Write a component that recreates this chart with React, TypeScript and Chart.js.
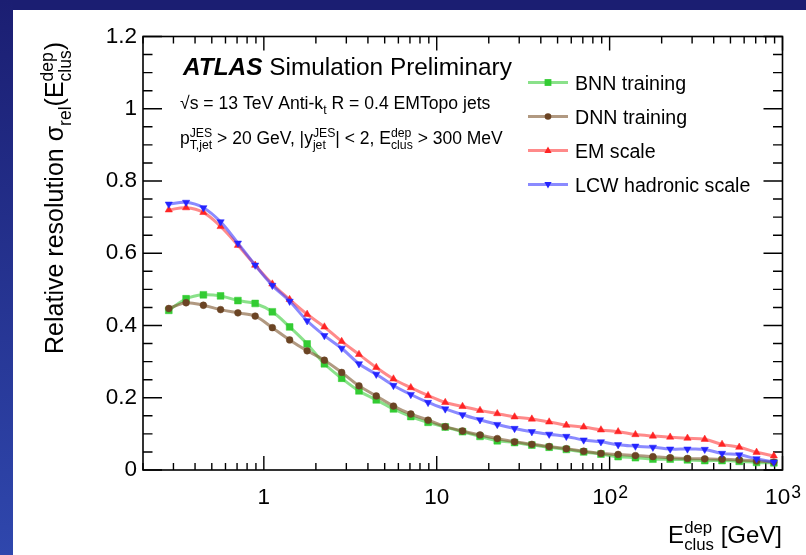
import React, { useEffect, useRef } from "react";
import { Chart, registerables } from "chart.js";

Chart.register(...registerables);

// ---- data ----
const energyGeV = [
  0.282, 0.355, 0.447, 0.562, 0.708, 0.891, 1.12, 1.41, 1.78, 2.24, 2.82, 3.55,
  4.47, 5.62, 7.08, 8.91, 11.2, 14.1, 17.8, 22.4, 28.2, 35.5, 44.7, 56.2, 70.8,
  89.1, 112, 141, 178, 224, 282, 355, 447, 562, 708, 891,
];

const bnnTraining = [
  0.442, 0.474, 0.485, 0.482, 0.469, 0.461, 0.438, 0.396, 0.349, 0.294, 0.254,
  0.219, 0.194, 0.169, 0.148, 0.132, 0.119, 0.106, 0.093, 0.081, 0.076, 0.069,
  0.063, 0.057, 0.05, 0.044, 0.037, 0.034, 0.03, 0.03, 0.028, 0.026, 0.026,
  0.024, 0.021, 0.02,
];

const dnnTraining = [
  0.447, 0.463, 0.456, 0.444, 0.435, 0.426, 0.394, 0.36, 0.33, 0.304, 0.27,
  0.233, 0.205, 0.177, 0.155, 0.138, 0.12, 0.108, 0.097, 0.087, 0.078, 0.071,
  0.065, 0.059, 0.052, 0.046, 0.043, 0.04, 0.037, 0.034, 0.032, 0.031, 0.03,
  0.028, 0.025, 0.022,
];

const emScale = [
  0.72, 0.726, 0.713, 0.674, 0.622, 0.567, 0.515, 0.472, 0.431, 0.396, 0.356,
  0.32, 0.284, 0.252, 0.228, 0.206, 0.187, 0.176, 0.165, 0.156, 0.147, 0.141,
  0.133, 0.124, 0.119, 0.111, 0.106, 0.098, 0.094, 0.091, 0.088, 0.085, 0.071,
  0.063, 0.049, 0.039,
];

const lcwScale = [
  0.736, 0.741, 0.726, 0.687, 0.628, 0.567, 0.511, 0.467, 0.413, 0.372, 0.337,
  0.294, 0.265, 0.234, 0.209, 0.187, 0.169, 0.153, 0.139, 0.126, 0.115, 0.106,
  0.099, 0.093, 0.083, 0.078, 0.07, 0.066, 0.063, 0.058, 0.058, 0.057, 0.046,
  0.042, 0.031, 0.022,
];

const seriesNames = ["BNN training", "DNN training", "EM scale", "LCW hadronic scale"];

const yTicks = [0, 0.2, 0.4, 0.6, 0.8, 1, 1.2];
const yTickLabels = ["0", "0.2", "0.4", "0.6", "0.8", "1", "1.2"];
const xTickValues = [1, 10, 100, 1000];
const xTickBases = ["1", "10", "10", "10"];
const xTickExps = ["", "", "2", "3"];

// ---- styling ----
const FAM = "'Liberation Sans', Arial, Helvetica, sans-serif";

type Piece = { t: string; sup?: string; sub?: string; bold?: boolean; italic?: boolean };

function fontStr(size: number, p?: Piece) {
  return `${p && p.italic ? "italic " : ""}${p && p.bold ? "bold " : ""}${size}px ${FAM}`;
}

function measureRich(ctx: CanvasRenderingContext2D, pieces: Piece[], size: number) {
  let w = 0;
  for (const p of pieces) {
    ctx.font = fontStr(size, p);
    w += ctx.measureText(p.t).width;
    if (p.sup || p.sub) {
      ctx.font = fontStr(size * 0.7);
      w += Math.max(
        p.sup ? ctx.measureText(p.sup).width : 0,
        p.sub ? ctx.measureText(p.sub).width : 0
      );
    }
  }
  return w;
}

function drawRich(
  ctx: CanvasRenderingContext2D,
  pieces: Piece[],
  x: number,
  y: number,
  size: number,
  align: "left" | "right" | "center"
) {
  const w = measureRich(ctx, pieces, size);
  let cx = align === "right" ? x - w : align === "center" ? x - w / 2 : x;
  ctx.textAlign = "left";
  ctx.textBaseline = "alphabetic";
  for (const p of pieces) {
    ctx.font = fontStr(size, p);
    ctx.fillText(p.t, cx, y);
    cx += ctx.measureText(p.t).width;
    if (p.sup || p.sub) {
      ctx.font = fontStr(size * 0.7);
      let adv = 0;
      if (p.sup) {
        ctx.fillText(p.sup, cx, y - size * 0.42);
        adv = Math.max(adv, ctx.measureText(p.sup).width);
      }
      if (p.sub) {
        ctx.fillText(p.sub, cx, y + size * 0.3);
        adv = Math.max(adv, ctx.measureText(p.sub).width);
      }
      cx += adv;
    }
  }
}

type MarkerKind = "rect" | "circle" | "triUp" | "triDown";

function drawMarker(ctx: CanvasRenderingContext2D, kind: MarkerKind, x: number, y: number, color: string) {
  ctx.fillStyle = color;
  ctx.beginPath();
  if (kind === "rect") {
    ctx.rect(x - 3.4, y - 3.4, 6.8, 6.8);
  } else if (kind === "circle") {
    ctx.arc(x, y, 3.3, 0, Math.PI * 2);
  } else if (kind === "triUp") {
    ctx.moveTo(x, y - 4);
    ctx.lineTo(x + 3.6, y + 2.4);
    ctx.lineTo(x - 3.6, y + 2.4);
    ctx.closePath();
  } else {
    ctx.moveTo(x, y + 4);
    ctx.lineTo(x + 3.6, y - 2.4);
    ctx.lineTo(x - 3.6, y - 2.4);
    ctx.closePath();
  }
  ctx.fill();
}

const lineColors = [
  "rgba(60,205,60,0.6)",
  "rgba(125,85,45,0.6)",
  "rgba(255,60,60,0.6)",
  "rgba(60,60,255,0.6)",
];
const markerColors = ["#33cc33", "#6b4424", "#ff2424", "#2424ff"];
const markerKinds: MarkerKind[] = ["rect", "circle", "triUp", "triDown"];

const framePlugin = {
  id: "rootFrame",
  beforeDatasetsDraw(chart: any) {
    const ctx: CanvasRenderingContext2D = chart.ctx;
    const xs = chart.scales.x;
    const ys = chart.scales.y;
    const { left: L, right: R, top: T, bottom: B } = chart.chartArea;
    ctx.save();
    ctx.strokeStyle = "#000";
    ctx.lineWidth = 1.6;
    ctx.strokeRect(L, T, R - L, B - T);
    ctx.lineWidth = 1.4;
    ctx.beginPath();
    // y ticks (every 0.05, major each 0.2)
    for (let i = 0; i <= 24; i++) {
      const v = i * 0.05;
      const py = ys.getPixelForValue(v);
      const len = i % 4 === 0 ? 19 : 9.5;
      ctx.moveTo(L, py);
      ctx.lineTo(L + len, py);
      ctx.moveTo(R, py);
      ctx.lineTo(R - len, py);
    }
    // x ticks (log decades)
    for (let e = -1; e <= 3; e++) {
      for (let k = 1; k <= 9; k++) {
        const v = k * Math.pow(10, e);
        if (v < 0.2 - 1e-9 || v > 1000 + 1e-9) continue;
        const px = xs.getPixelForValue(v);
        const len = k === 1 ? 14 : 7;
        ctx.moveTo(px, B);
        ctx.lineTo(px, B - len);
        ctx.moveTo(px, T);
        ctx.lineTo(px, T + len);
      }
    }
    ctx.stroke();
    ctx.restore();
  },
  afterDraw(chart: any) {
    const ctx: CanvasRenderingContext2D = chart.ctx;
    const xs = chart.scales.x;
    const { bottom: B } = chart.chartArea;
    ctx.save();
    ctx.fillStyle = "#000";

    // x tick labels
    xTickValues.forEach((v, i) => {
      const px = xs.getPixelForValue(v);
      const size = 22.5;
      ctx.font = fontStr(size);
      const wb = ctx.measureText(xTickBases[i]).width;
      ctx.font = fontStr(size * 0.78);
      const we = xTickExps[i] ? ctx.measureText(xTickExps[i]).width : 0;
      const x0 = px - (wb + we) / 2;
      const by = B + 34;
      ctx.textAlign = "left";
      ctx.textBaseline = "alphabetic";
      ctx.font = fontStr(size);
      ctx.fillText(xTickBases[i], x0, by);
      if (xTickExps[i]) {
        ctx.font = fontStr(size * 0.78);
        ctx.fillText(xTickExps[i], x0 + wb + 1, by - 6.5);
      }
    });

    // x title
    drawRich(ctx, [{ t: "E", sup: "dep", sub: "clus" }, { t: " [GeV]" }], 782, 543, 24, "right");

    // y title
    ctx.save();
    ctx.translate(63, 42);
    ctx.rotate(-Math.PI / 2);
    drawRich(
      ctx,
      [{ t: "Relative resolution σ", sub: "rel" }, { t: "(E", sup: "dep", sub: "clus" }, { t: ")" }],
      0,
      0,
      25,
      "right"
    );
    ctx.restore();

    // ATLAS label
    drawRich(ctx, [{ t: "ATLAS", bold: true, italic: true }, { t: " Simulation Preliminary" }], 183, 75, 24.4, "left");
    drawRich(ctx, [{ t: "√s = 13 TeV Anti-k", sub: "t" }, { t: " R = 0.4 EMTopo jets" }], 180, 109, 17.6, "left");
    drawRich(
      ctx,
      [
        { t: "p", sup: "JES", sub: "T,jet" },
        { t: " > 20 GeV, |y", sup: "JES", sub: "jet" },
        { t: "| < 2, E", sup: "dep", sub: "clus" },
        { t: " > 300 MeV" },
      ],
      180,
      144,
      17.5,
      "left"
    );

    // legend
    const legendY = [82.5, 116.5, 150.5, 184.5];
    seriesNames.forEach((name, i) => {
      const y = legendY[i];
      ctx.strokeStyle = lineColors[i];
      ctx.lineWidth = 3;
      ctx.beginPath();
      ctx.moveTo(528, y);
      ctx.lineTo(568, y);
      ctx.stroke();
      drawMarker(ctx, markerKinds[i], 548, y, markerColors[i]);
      ctx.fillStyle = "#000";
      ctx.font = fontStr(19.6);
      ctx.textAlign = "left";
      ctx.textBaseline = "alphabetic";
      ctx.fillText(name, 575, y + 7);
    });
    ctx.restore();
  },
};

export default function App() {
  const canvasRef = useRef<HTMLCanvasElement | null>(null);

  useEffect(() => {
    document.documentElement.style.background = "#ffffff";
    document.body.style.margin = "0";
    document.body.style.background = "#ffffff";
    document.body.style.overflow = "hidden";

    const canvas = canvasRef.current;
    if (!canvas) return;
    const seriesValues = [bnnTraining, dnnTraining, emScale, lcwScale];
    const pointStyles = ["rect", "circle", "triangle", "triangle"];
    const pointRadii = [4.8, 3.4, 4.2, 4.2];
    const rotations = [0, 0, 0, 180];
    const orders = [3, 2, 1, 0];
    const datasets = seriesNames.map((name, i) => ({
      label: name,
      data: energyGeV.map((x, j) => ({ x, y: seriesValues[i][j] })),
      borderColor: lineColors[i],
      backgroundColor: markerColors[i],
      borderWidth: 3,
      tension: 0.35,
      fill: false,
      pointStyle: pointStyles[i] as any,
      pointRadius: pointRadii[i],
      pointRotation: rotations[i],
      pointBackgroundColor: markerColors[i],
      pointBorderColor: markerColors[i],
      pointBorderWidth: 0.5,
      order: orders[i],
    }));

    const chart = new Chart(canvas, {
      type: "line",
      data: { datasets },
      options: {
        responsive: false,
        animation: false,
        devicePixelRatio: 1,
        layout: { padding: { left: 0, right: 23.5, top: 36.5, bottom: 0 } },
        plugins: { legend: { display: false }, tooltip: { enabled: false } },
        scales: {
          x: {
            type: "logarithmic",
            min: 0.2,
            max: 1000,
            grid: { display: false, drawTicks: false },
            border: { display: false },
            ticks: { display: false },
            afterFit: (s: any) => {
              s.height = 85;
            },
          },
          y: {
            type: "linear",
            min: 0,
            max: 1.2,
            afterBuildTicks: (s: any) => {
              s.ticks = yTicks.map((v) => ({ value: v }));
            },
            ticks: {
              callback: (v: any) => {
                const idx = yTicks.indexOf(Number(v));
                return idx >= 0 ? yTickLabels[idx] : "";
              },
              font: { family: FAM, size: 22.5 },
              color: "#000",
              padding: 6,
            },
            grid: { display: false, drawTicks: false },
            border: { display: false },
            afterFit: (s: any) => {
              s.width = 143;
            },
          },
        },
      } as any,
      plugins: [framePlugin],
    });
    return () => chart.destroy();
  }, []);

  return (
    <div
      style={{
        position: "fixed",
        left: 0,
        top: 0,
        right: 0,
        bottom: 0,
        minWidth: 806,
        minHeight: 555,
        background: "#ffffff",
        overflow: "hidden",
      }}
    >
      <div style={{ position: "absolute", left: 0, top: 0, right: 0, height: 10, background: "#1b1e72" }} />
      <div
        style={{
          position: "absolute",
          left: 0,
          top: 0,
          width: 13,
          height: 555,
          background: "linear-gradient(to bottom, #1b1e72, #2f47ad)",
        }}
      />
      <canvas
        ref={canvasRef}
        width={806}
        height={555}
        style={{ position: "absolute", left: 0, top: 0, width: 806, height: 555 }}
      />
    </div>
  );
}
